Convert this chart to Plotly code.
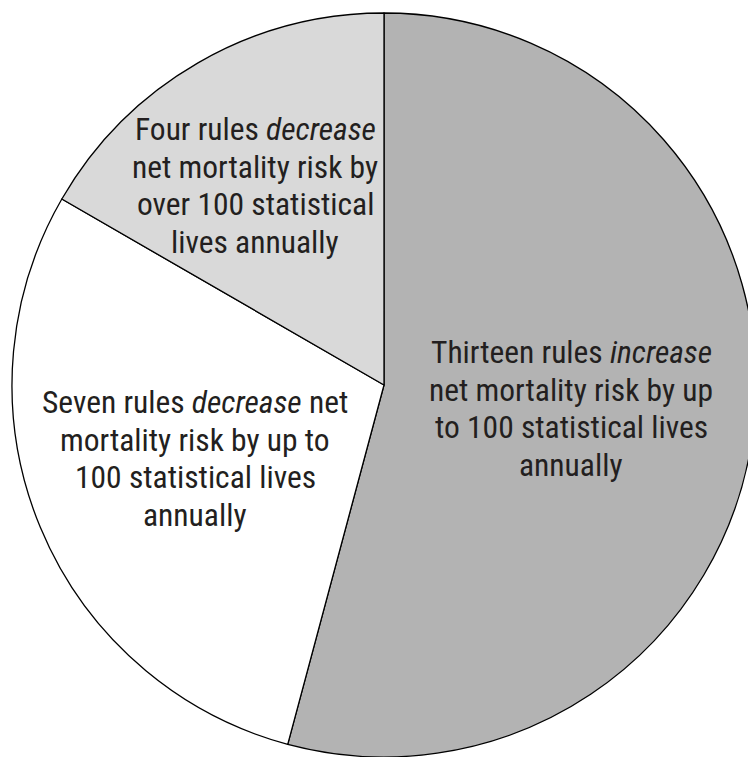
import plotly.graph_objects as go

# ---- data ----
categories = [
    "Thirteen rules increase net mortality risk by up to 100 statistical lives annually",
    "Seven rules decrease net mortality risk by up to 100 statistical lives annually",
    "Four rules decrease net mortality risk by over 100 statistical lives annually",
]
rule_counts = [13, 7, 4]
label_lines_thirteen = ["Thirteen rules <i>increase</i>", "net mortality risk by up",
                        "to 100 statistical lives", "annually"]
label_lines_seven = ["Seven rules <i>decrease</i> net", "mortality risk by up to",
                     "100 statistical lives", "annually"]
label_lines_four = ["Four rules <i>decrease</i>", "net mortality risk by",
                    "over 100 statistical", "lives annually"]

# ---- style / layout ----
slice_colors = ["#b3b3b3", "#ffffff", "#d9d9d9"]
W, H = 756, 757
ML, MT = 12, 13
PW, PH = W - ML, H - MT
FONT = "Liberation Sans Narrow, Roboto Condensed, DejaVu Sans Condensed, Arial Narrow, sans-serif"
FS = 31.5
TEXT_COLOR = "#231f20"
LINE_STEP = 37.5

fig = go.Figure(go.Pie(
    labels=categories,
    values=rule_counts,
    sort=False,
    direction="clockwise",
    rotation=0,
    marker=dict(colors=slice_colors, line=dict(color="#000000", width=1.3)),
    textinfo="none",
    hoverinfo="label+value",
    showlegend=False,
))

label_blocks = [
    (label_lines_thirteen, 571, 352.5),
    (label_lines_seven, 195, 402.5),
    (label_lines_four, 255, 129.5),
]
annotations = []
for lines, cx, cy in label_blocks:
    for i, line in enumerate(lines):
        py = cy + i * LINE_STEP
        annotations.append(dict(
            text=line, x=(cx - ML) / PW, y=1 - (py - MT) / PH,
            xref="paper", yref="paper", xanchor="center", yanchor="middle",
            showarrow=False, font=dict(family=FONT, size=FS, color=TEXT_COLOR),
        ))

fig.update_layout(
    width=W, height=H,
    margin=dict(l=ML, r=0, t=MT, b=0, pad=0),
    paper_bgcolor="white", plot_bgcolor="white",
    annotations=annotations,
)

fig.write_html(
    "out.html",
    post_script="document.body.style.overflow='hidden';document.documentElement.style.overflow='hidden';document.body.style.margin='0';",
)
